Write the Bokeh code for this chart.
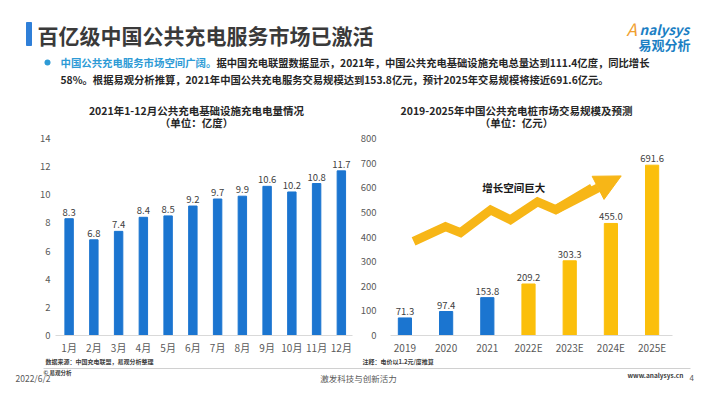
from bokeh.plotting import figure
from bokeh.models import Range1d, FixedTicker, ColumnDataSource, Arrow, NormalHead
from bokeh.layouts import column, row
from bokeh.embed import file_html
from bokeh.resources import INLINE
from bokeh.core.properties import value

FONT = "Noto Sans CJK SC"
BLUE = "#1B75D0"
YELLOW = "#FBBF0B"
DARK = "#404040"
GREY = "#595959"

# ---- data ----
months = ["1月", "2月", "3月", "4月", "5月", "6月", "7月", "8月", "9月", "10月", "11月", "12月"]
charge = [8.3, 6.8, 7.4, 8.4, 8.5, 9.2, 9.7, 9.9, 10.6, 10.2, 10.8, 11.7]
charge_ticks = [0, 2, 4, 6, 8, 10, 12, 14]

years = ["2019", "2020", "2021", "2022E", "2023E", "2024E", "2025E"]
market = [71.3, 97.4, 153.8, 209.2, 303.3, 455.0, 691.6]
is_forecast = [False, False, False, True, True, True, True]
market_ticks = [0, 100, 200, 300, 400, 500, 600, 700, 800]

# decorative growth arrow (in chart data space)
arrow_x = [0.21, 0.985, 1.35, 2.08, 2.56, 3.22, 3.66, 4.55]
arrow_y = [382, 442, 418, 510, 470, 543, 511, 600]
arrow_tip = (5.25, 648)


def canvas(w, h):
    p = figure(width=w, height=h, x_range=Range1d(0, w), y_range=Range1d(h, 0),
               output_backend="svg", toolbar_location=None, min_border=0)
    p.xaxis.visible = False
    p.yaxis.visible = False
    p.grid.visible = False
    p.outline_line_color = None
    return p


def txt(p, x, y, s, size, color=DARK, bold=False, align="left", italic=False):
    style = "bold" if bold else "normal"
    if italic:
        style = "bold italic" if bold else "italic"
    p.text(x=[x], y=[y], text=[s], text_font=value(FONT), text_font_size=f"{size}px",
           text_color=color, text_align=align, text_baseline="middle", text_font_style=style)


# ---- header ----
W = 694
hdr = canvas(W, 130)
hdr.quad(left=[26], right=[31], top=[22], bottom=[45], color="#2F7FD8")
txt(hdr, 37, 34, "百亿级中国公共充电服务市场已激活", 21, "#3A3A3A", bold=True)
hdr.scatter(x=[47], y=[62], size=6, color="#2E9BD6", line_color=None)
txt(hdr, 60, 62, "中国公共充电服务市场空间广阔。", 10.4, "#2E9BD6", bold=True)
txt(hdr, 216, 62, "据中国充电联盟数据显示，2021年，中国公共充电基础设施充电总量达到111.4亿度，同比增长", 10.3, "#262626", bold=True)
txt(hdr, 60, 79, "58%。根据易观分析推算，2021年中国公共充电服务交易规模达到153.8亿元，预计2025年交易规模将接近691.6亿元。", 10.3, "#262626", bold=True)
# logo
txt(hdr, 626, 28, "A", 17, "#F0A030", italic=True)
txt(hdr, 639, 28, "nalysys", 13.5, "#1B7FC4", bold=True, italic=True)
txt(hdr, 638, 44, "易观分析", 13, "#1B7FC4", bold=True)
# chart titles
txt(hdr, 196, 110, "2021年1-12月公共充电基础设施充电电量情况", 10.5, "#262626", bold=True, align="center")
txt(hdr, 196, 122, "（单位：亿度）", 10.5, "#262626", bold=True, align="center")
txt(hdr, 516, 110, "2019-2025年中国公共充电桩市场交易规模及预测", 10.5, "#262626", bold=True, align="center")
txt(hdr, 516, 122, "（单位：亿元）", 10.5, "#262626", bold=True, align="center")


def style_chart(p, standoff):
    p.grid.visible = False
    p.outline_line_color = None
    for ax in (p.xaxis, p.yaxis):
        ax.major_tick_out = 0
        ax.major_tick_in = 0
        ax.minor_tick_out = 0
        ax.minor_tick_in = 0
        ax.major_tick_line_color = None
        ax.minor_tick_line_color = None
        ax.major_label_text_font = FONT
        ax.major_label_text_color = GREY
    p.yaxis.axis_line_color = None
    p.yaxis.major_label_standoff = standoff
    p.yaxis.major_label_text_font_size = "9.5px"
    p.xaxis.axis_line_color = "#D9D9D9"
    p.xaxis.major_label_standoff = 4
    p.xaxis.major_label_text_font_size = "10px"


# ---- left chart ----
pl = figure(width=355, height=227, x_range=Range1d(-0.55, 11.45), y_range=Range1d(0, 14),
            output_backend="svg", toolbar_location=None,
            min_border_left=55, min_border_right=3, min_border_top=8, min_border_bottom=20)
style_chart(pl, 5)
xl = list(range(len(months)))
src_l = ColumnDataSource(dict(x=xl, v=charge, lab=[f"{v:.1f}" for v in charge]))
pl.vbar(x="x", top="v", width=0.34, source=src_l, color=BLUE)
pl.text(x="x", y="v", text="lab", source=src_l, text_align="center", text_baseline="bottom",
        y_offset=-3, text_font=value(FONT), text_font_size="9.5px", text_color=DARK)
pl.xaxis.ticker = FixedTicker(ticks=xl)
pl.xaxis.major_label_overrides = {i: m for i, m in enumerate(months)}
pl.yaxis.ticker = FixedTicker(ticks=charge_ticks)

# ---- right chart ----
pr = figure(width=339, height=227, x_range=Range1d(-0.35, 6.495), y_range=Range1d(0, 800),
            output_backend="svg", toolbar_location=None,
            min_border_left=35, min_border_right=22, min_border_top=8, min_border_bottom=20)
style_chart(pr, 14)
xr = list(range(len(years)))
src_r = ColumnDataSource(dict(x=xr, v=market, lab=[f"{v:.1f}" for v in market],
                              c=[YELLOW if f else BLUE for f in is_forecast]))
pr.vbar(x="x", top="v", width=0.32, source=src_r, color="c")
pr.text(x="x", y="v", text="lab", source=src_r, text_align="center", text_baseline="bottom",
        y_offset=-3, text_font=value(FONT), text_font_size="9.5px", text_color=DARK)
pr.xaxis.ticker = FixedTicker(ticks=xr)
pr.xaxis.major_label_overrides = {i: y for i, y in enumerate(years)}
pr.yaxis.ticker = FixedTicker(ticks=market_ticks)
# growth arrow
pr.line(x=arrow_x, y=arrow_y, line_width=9, line_color="#F7B617", line_join="miter")
pr.add_layout(Arrow(x_start=arrow_x[-2], y_start=arrow_y[-2], x_end=arrow_tip[0], y_end=arrow_tip[1],
                    line_width=9, line_color="#F7B617",
                    end=NormalHead(size=26, fill_color="#F7B617", line_color="#F7B617")))
pr.text(x=[2.64], y=[599], text=["增长空间巨大"], text_align="center", text_baseline="middle",
        text_font=value(FONT), text_font_size="10.5px", text_font_style="bold", text_color="#1A1A1A")

# ---- footer ----
ftr = canvas(W, 26)
txt(ftr, 45, 4, "数据来源：中国充电联盟，易观分析整理", 6, "#404040", bold=True)
txt(ftr, 362, 4, "注释：电价以1.2元/度推算", 6, "#404040", bold=True)
ftr.line(x=[43, 690], y=[11, 11], line_color="#D0D0D0", line_width=1)
txt(ftr, 43, 15.5, "© 易观分析", 5.5, "#404040", bold=True)
txt(ftr, 15, 20, "2022/6/2", 8.5, GREY)
txt(ftr, 358, 20, "激发科技与创新活力", 8.5, GREY, align="center")
txt(ftr, 627, 17, "www.analysys.cn", 6.5, "#404040", bold=True)
txt(ftr, 689, 20, "4", 8, GREY)

layout = column(hdr, row(pl, pr), ftr)
open("out.html", "w").write(file_html(layout, INLINE))
